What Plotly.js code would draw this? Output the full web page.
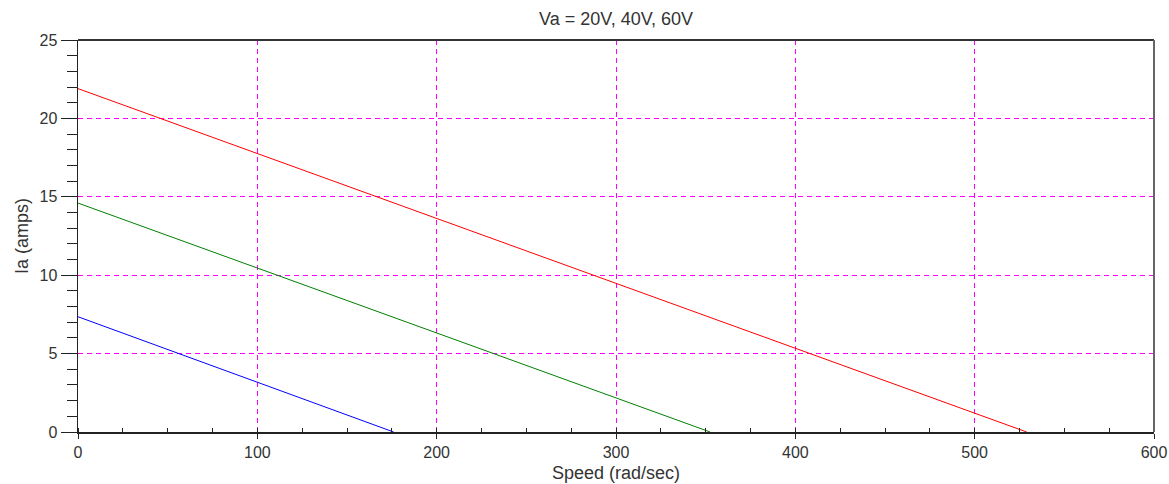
<!DOCTYPE html>
<html><head><meta charset="utf-8">
<script src="https://cdn.plot.ly/plotly-3.0.1.min.js"></script>
<style>html,body{margin:0;padding:0;background:#fff}#chart{width:1169px;height:484px}
.shapelayer path{shape-rendering:crispEdges}</style>
</head><body><div id="chart"></div>
<script>
const speed20 = [0, 176];
const ia20 = [7.35, 0];
const speed40 = [0, 352.5];
const ia40 = [14.6, 0];
const speed60 = [0, 529];
const ia60 = [21.9, 0];
const xTicks = [0, 100, 200, 300, 400, 500, 600];
const yTicks = [0, 5, 10, 15, 20, 25];

const traces = [
  {x: speed20, y: ia20, mode: 'lines', line: {color: '#0000ff', width: 1}, name: '20V'},
  {x: speed40, y: ia40, mode: 'lines', line: {color: '#008000', width: 1}, name: '40V'},
  {x: speed60, y: ia60, mode: 'lines', line: {color: '#ff0000', width: 1}, name: '60V'}
];
const gridShapes = [];
[100,200,300,400,500].forEach(v => gridShapes.push({type:'line', xref:'x', yref:'paper', x0:v, x1:v, y0:0, y1:1, line:{color:'#ff00ff', width:1, dash:'5px,4px'}, layer:'below'}));
[5,10,15,20].forEach(v => gridShapes.push({type:'line', xref:'paper', yref:'y', x0:0, x1:1, y0:v, y1:v, line:{color:'#ff00ff', width:1, dash:'5px,4px'}, layer:'below'}));
gridShapes.push({type:'line', xref:'paper', yref:'paper', x0:0, x1:1, y0:1, y1:1, line:{color:'#333333', width:1.5}});
gridShapes.push({type:'line', xref:'paper', yref:'paper', x0:1, x1:1, y0:0, y1:1, line:{color:'#666666', width:2}});

const layout = {
  width: 1169, height: 484,
  margin: {l: 78, r: 15, t: 40, b: 52},
  paper_bgcolor: '#fff', plot_bgcolor: '#fff',
  showlegend: false,
  font: {family: 'Liberation Sans, Arial, sans-serif', size: 16, color: '#333'},
  title: {text: 'Va = 20V, 40V, 60V', x: 0.527, xanchor: 'center', y: 0.962, yanchor: 'middle', font: {size: 18, color: '#333'}},
  xaxis: {
    range: [0, 600], tickvals: xTicks, ticktext: xTicks.map(String),
    showgrid: false, zeroline: false, showline: true, linecolor: '#222', linewidth: 1.5,
    ticks: 'outside', ticklen: 5, tickcolor: '#222', tickwidth: 1,
    tickfont: {size: 16, color: '#333'},
    minor: {dtick: 25, ticks: 'inside', ticklen: 4, tickcolor: '#222', showgrid: false},
    title: {text: 'Speed (rad/sec)', standoff: 6, font: {size: 18, color: '#333'}},
    fixedrange: true
  },
  yaxis: {
    range: [0, 25], tickvals: yTicks, ticktext: yTicks.map(String),
    showgrid: false, zeroline: false, showline: true, linecolor: '#222', linewidth: 1.5,
    ticks: 'outside', ticklen: 16, tickcolor: '#222', tickwidth: 1,
    tickfont: {size: 16, color: '#333'},
    minor: {dtick: 1, ticks: 'outside', ticklen: 10, tickcolor: '#222', showgrid: false},
    title: {text: 'Ia (amps)', standoff: 6, font: {size: 18, color: '#333'}},
    fixedrange: true
  },
  shapes: gridShapes
};
Plotly.newPlot('chart', traces, layout, {displayModeBar: false, staticPlot: true});
</script></body></html>
